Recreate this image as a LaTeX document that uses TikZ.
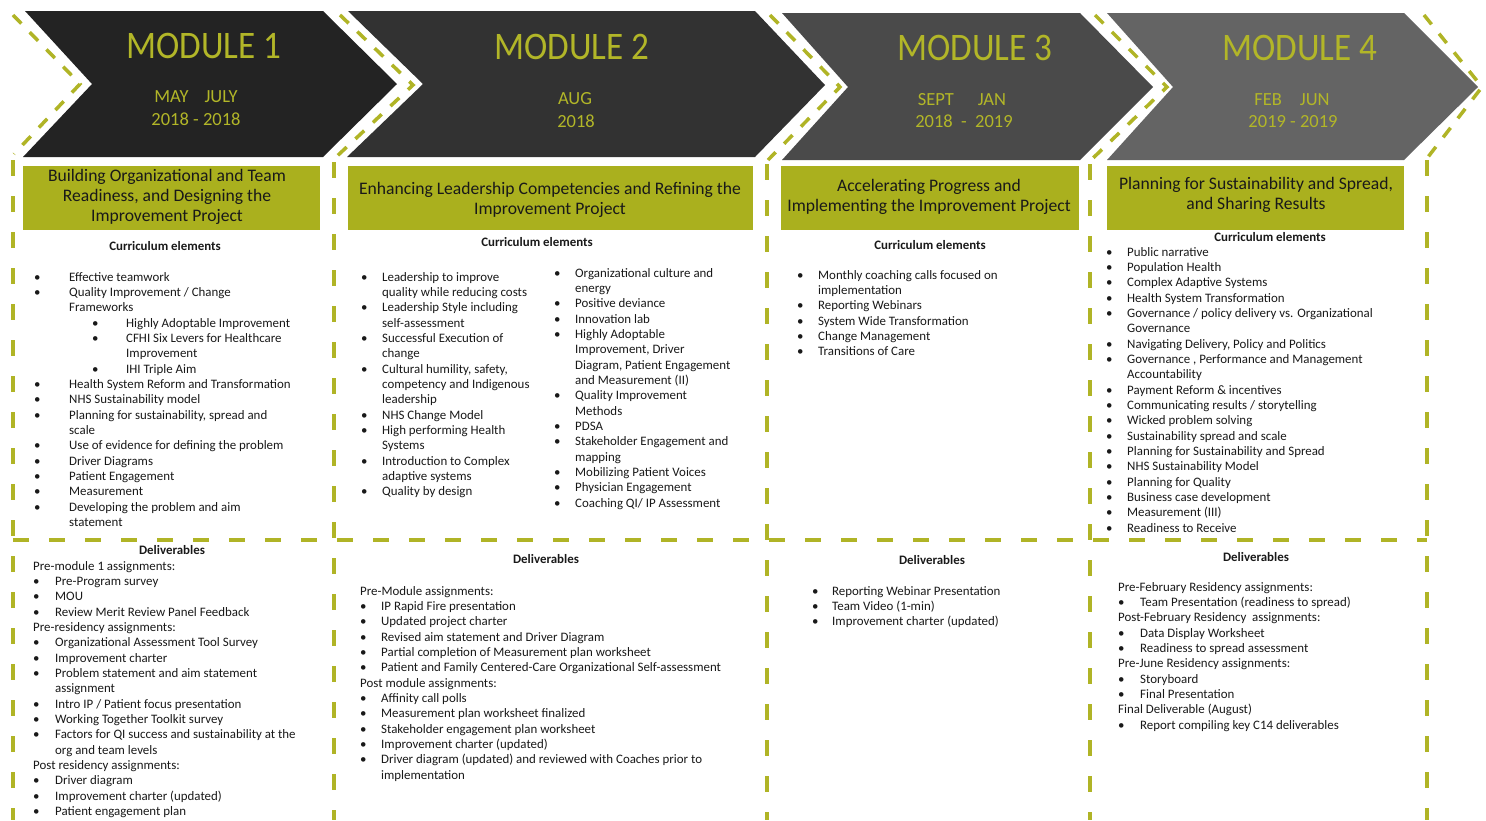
\documentclass[tikz,border=0pt]{standalone}
\usepackage{fontspec}
\setmainfont{Carlito}
\newfontfamily\modfont[FakeStretch=0.9]{Carlito}
\definecolor{chevA}{RGB}{35,35,35}
\definecolor{chevB}{RGB}{50,50,50}
\definecolor{chevC}{RGB}{74,74,74}
\definecolor{chevD}{RGB}{100,100,100}
\definecolor{modc}{RGB}{178,182,40}
\definecolor{boxc}{RGB}{170,176,30}
\definecolor{dashc}{RGB}{176,180,38}
\definecolor{txtc}{RGB}{25,25,25}
\newdimen\bw
\newcommand\bi[1]{\hbox{\hbox to\bw{\textbullet\hss}#1}}
\newcommand\ct[1]{\hbox{\hskip\bw\relax #1}}
\newcommand\pl[1]{\hbox{#1}}
\newcommand\sbi[1]{\hbox{\hskip58pt\relax\hbox to34pt{\textbullet\hss}#1}}
\newcommand\sct[1]{\hbox{\hskip92pt\relax #1}}
\newcommand\blist[2]{\vtop{\bw=#1\relax\baselineskip=15.35pt\lineskiplimit=-20pt\lineskip=0pt #2}}
\tikzset{
  vdash/.style={draw=dashc, line width=3.5pt, dash pattern=on 16pt off 20pt},
  ddash/.style={draw=dashc, line width=3.5pt, dash pattern=on 12pt off 12pt, line join=miter},
  modtitle/.style={text=modc, font=\modfont\fontsize{39}{39}\selectfont, inner sep=0pt, anchor=base},
  dates/.style={text=modc, font=\fontsize{18.5}{18.5}\selectfont, inner sep=0pt, anchor=base},
  titletext/.style={align=center, text=txtc, font=\fontsize{17.6}{20}\selectfont, inner sep=0pt},
  hdr/.style={text=txtc, font=\bfseries\fontsize{12.9}{15}\selectfont, anchor=base, inner sep=0pt},
  lst/.style={text=txtc, font=\fontsize{12.9}{15.35}\selectfont, anchor=base west, inner sep=0pt},
}
\begin{document}
\begin{tikzpicture}[x=1pt,y=-1pt]
\useasboundingbox (0,0) rectangle (1486,820);
\fill[white] (0,0) rectangle (1486,820);
% chevrons
\fill[chevA] (25,11) -- (323,11) -- (397,84) -- (323,157) -- (23,157) -- (92,84) -- cycle;
\fill[chevB] (348,11) -- (755,11) -- (825,85) -- (755,157) -- (347,157) -- (423,84) -- cycle;
\fill[chevC] (782,13) -- (1080,13) -- (1153,87) -- (1080,160) -- (782,160) -- (848,87) -- cycle;
\fill[chevD] (1107,13) -- (1404,13) -- (1478,87) -- (1404,160) -- (1107,160) -- (1173,87) -- cycle;
% dashed guides
\draw[ddash] (13,15) -- (80,84) -- (14,154);
\draw[ddash] (340,15) -- (413,85) -- (335,158);
\draw[ddash] (770,15) -- (840,87) -- (768,160);
\draw[ddash] (1095,15) -- (1167,87) -- (1091,160);
\draw[ddash] (1424,15) -- (1482,87) -- (1428,157);
\draw[vdash] (13,160) -- (13,820);
\draw[vdash] (334,162) -- (334,820);
\draw[vdash] (767,164) -- (767,820);
\draw[vdash] (1090,164) -- (1090,820);
\draw[vdash] (1427,160) -- (1427,820);
\draw[vdash] (13,540) -- (1427,540);
% module titles
\node[modtitle] (m1) at (204,58) {MODULE 1};
\node[dates] (m1a) at (196,102) {MAY\hspace{16pt}JULY};
\node[dates] (m1b) at (196,125) {2018 - 2018};
\node[modtitle] (m2) at (572,59) {MODULE 2};
\node[dates] (m2a) at (575,104) {AUG};
\node[dates] (m2b) at (576,127) {2018};
\node[modtitle] (m3) at (975,60) {MODULE 3};
\node[dates] (m3a) at (962,105) {SEPT\hspace{24pt}JAN};
\node[dates] (m3b) at (964,127) {2018\ \ -\ \ 2019};
\node[modtitle] (m4) at (1300,60) {MODULE 4};
\node[dates] (m4a) at (1292,105) {FEB\hspace{18pt}JUN};
\node[dates] (m4b) at (1293,127) {2019 - 2019};
% title boxes
\fill[boxc] (23,166) rectangle (320,230);
\fill[boxc] (348,166) rectangle (753,230);
\fill[boxc] (781,166) rectangle (1079,230);
\fill[boxc] (1107,166) rectangle (1404,230);
\node[titletext] (t1) at (167,197) {Building Organizational and Team\\Readiness, and Designing the\\Improvement Project};
\node[titletext] (t2) at (550,200) {Enhancing Leadership Competencies and Refining the\\Improvement Project};
\node[titletext] (t3) at (929,197) {Accelerating Progress and\\Implementing the Improvement Project};
\node[titletext] (t4) at (1256,195) {Planning for Sustainability and Spread,\\and Sharing Results};
% headers
\node[hdr] (h1) at (165,250) {Curriculum elements};
\node[hdr] (h2) at (537,246) {Curriculum elements};
\node[hdr] (h3) at (930,249) {Curriculum elements};
\node[hdr] (h4) at (1270,241) {Curriculum elements};
\node[hdr] (d1) at (172,554) {Deliverables};
\node[hdr] (d2) at (546,563) {Deliverables};
\node[hdr] (d3) at (932,564) {Deliverables};
\node[hdr] (d4) at (1256,561) {Deliverables};
% curriculum lists
\node[lst] (c1) at (34,281) {\blist{35pt}{%
\bi{Effective teamwork}
\bi{Quality Improvement / Change}
\ct{Frameworks}
\sbi{Highly Adoptable Improvement}
\sbi{CFHI Six Levers for Healthcare}
\sct{Improvement}
\sbi{IHI Triple Aim}
\bi{Health System Reform and Transformation}
\bi{NHS Sustainability model}
\bi{Planning for sustainability, spread and}
\ct{scale}
\bi{Use of evidence for defining the problem}
\bi{Driver Diagrams}
\bi{Patient Engagement}
\bi{Measurement}
\bi{Developing the problem and aim}
\ct{statement}}};
\node[lst] (c2a) at (361,281) {\blist{21pt}{%
\bi{Leadership to improve}
\ct{quality while reducing costs}
\bi{Leadership Style including}
\ct{self-assessment}
\bi{Successful Execution of}
\ct{change}
\bi{Cultural humility, safety,}
\ct{competency and Indigenous}
\ct{leadership}
\bi{NHS Change Model}
\bi{High performing Health}
\ct{Systems}
\bi{Introduction to Complex}
\ct{adaptive systems}
\bi{Quality by design}}};
\node[lst] (c2b) at (554,277) {\blist{21pt}{%
\bi{Organizational culture and}
\ct{energy}
\bi{Positive deviance}
\bi{Innovation lab}
\bi{Highly Adoptable}
\ct{Improvement, Driver}
\ct{Diagram, Patient Engagement}
\ct{and Measurement (II)}
\bi{Quality Improvement}
\ct{Methods}
\bi{PDSA}
\bi{Stakeholder Engagement and}
\ct{mapping}
\bi{Mobilizing Patient Voices}
\bi{Physician Engagement}
\bi{Coaching QI/ IP Assessment}}};
\node[lst] (c3) at (797,279) {\blist{21pt}{%
\bi{Monthly coaching calls focused on}
\ct{implementation}
\bi{Reporting Webinars}
\bi{System Wide Transformation}
\bi{Change Management}
\bi{Transitions of Care}}};
\node[lst] (c4) at (1106,256) {\blist{21pt}{%
\bi{Public narrative}
\bi{Population Health}
\bi{Complex Adaptive Systems}
\bi{Health System Transformation}
\bi{Governance / policy delivery vs. Organizational}
\ct{Governance}
\bi{Navigating Delivery, Policy and Politics}
\bi{Governance , Performance and Management}
\ct{Accountability}
\bi{Payment Reform \& incentives}
\bi{Communicating results / storytelling}
\bi{Wicked problem solving}
\bi{Sustainability spread and scale}
\bi{Planning for Sustainability and Spread}
\bi{NHS Sustainability Model}
\bi{Planning for Quality}
\bi{Business case development}
\bi{Measurement (III)}
\bi{Readiness to Receive}}};
% deliverables lists
\node[lst] (e1) at (33,570) {\blist{22pt}{%
\pl{Pre-module 1 assignments:}
\bi{Pre-Program survey}
\bi{MOU}
\bi{Review Merit Review Panel Feedback}
\pl{Pre-residency assignments:}
\bi{Organizational Assessment Tool Survey}
\bi{Improvement charter}
\bi{Problem statement and aim statement}
\ct{assignment}
\bi{Intro IP / Patient focus presentation}
\bi{Working Together Toolkit survey}
\bi{Factors for QI success and sustainability at the}
\ct{org and team levels}
\pl{Post residency assignments:}
\bi{Driver diagram}
\bi{Improvement charter (updated)}
\bi{Patient engagement plan}}};
\node[lst] (e2) at (360,595) {\blist{21pt}{%
\pl{Pre-Module assignments:}
\bi{IP Rapid Fire presentation}
\bi{Updated project charter}
\bi{Revised aim statement and Driver Diagram}
\bi{Partial completion of Measurement plan worksheet}
\bi{Patient and Family Centered-Care Organizational Self-assessment}
\pl{Post module assignments:}
\bi{Affinity call polls}
\bi{Measurement plan worksheet finalized}
\bi{Stakeholder engagement plan worksheet}
\bi{Improvement charter (updated)}
\bi{Driver diagram (updated) and reviewed with Coaches prior to}
\ct{implementation}}};
\node[lst] (e3) at (812,595) {\blist{20pt}{%
\bi{Reporting Webinar Presentation}
\bi{Team Video (1-min)}
\bi{Improvement charter (updated)}}};
\node[lst] (e4) at (1118,591) {\blist{22pt}{%
\pl{Pre-February Residency assignments:}
\bi{Team Presentation (readiness to spread)}
\pl{Post-February Residency\ \ assignments:}
\bi{Data Display Worksheet}
\bi{Readiness to spread assessment}
\pl{Pre-June Residency assignments:}
\bi{Storyboard}
\bi{Final Presentation}
\pl{Final Deliverable (August)}
\bi{Report compiling key C14 deliverables}}};
\end{tikzpicture}
\end{document}
